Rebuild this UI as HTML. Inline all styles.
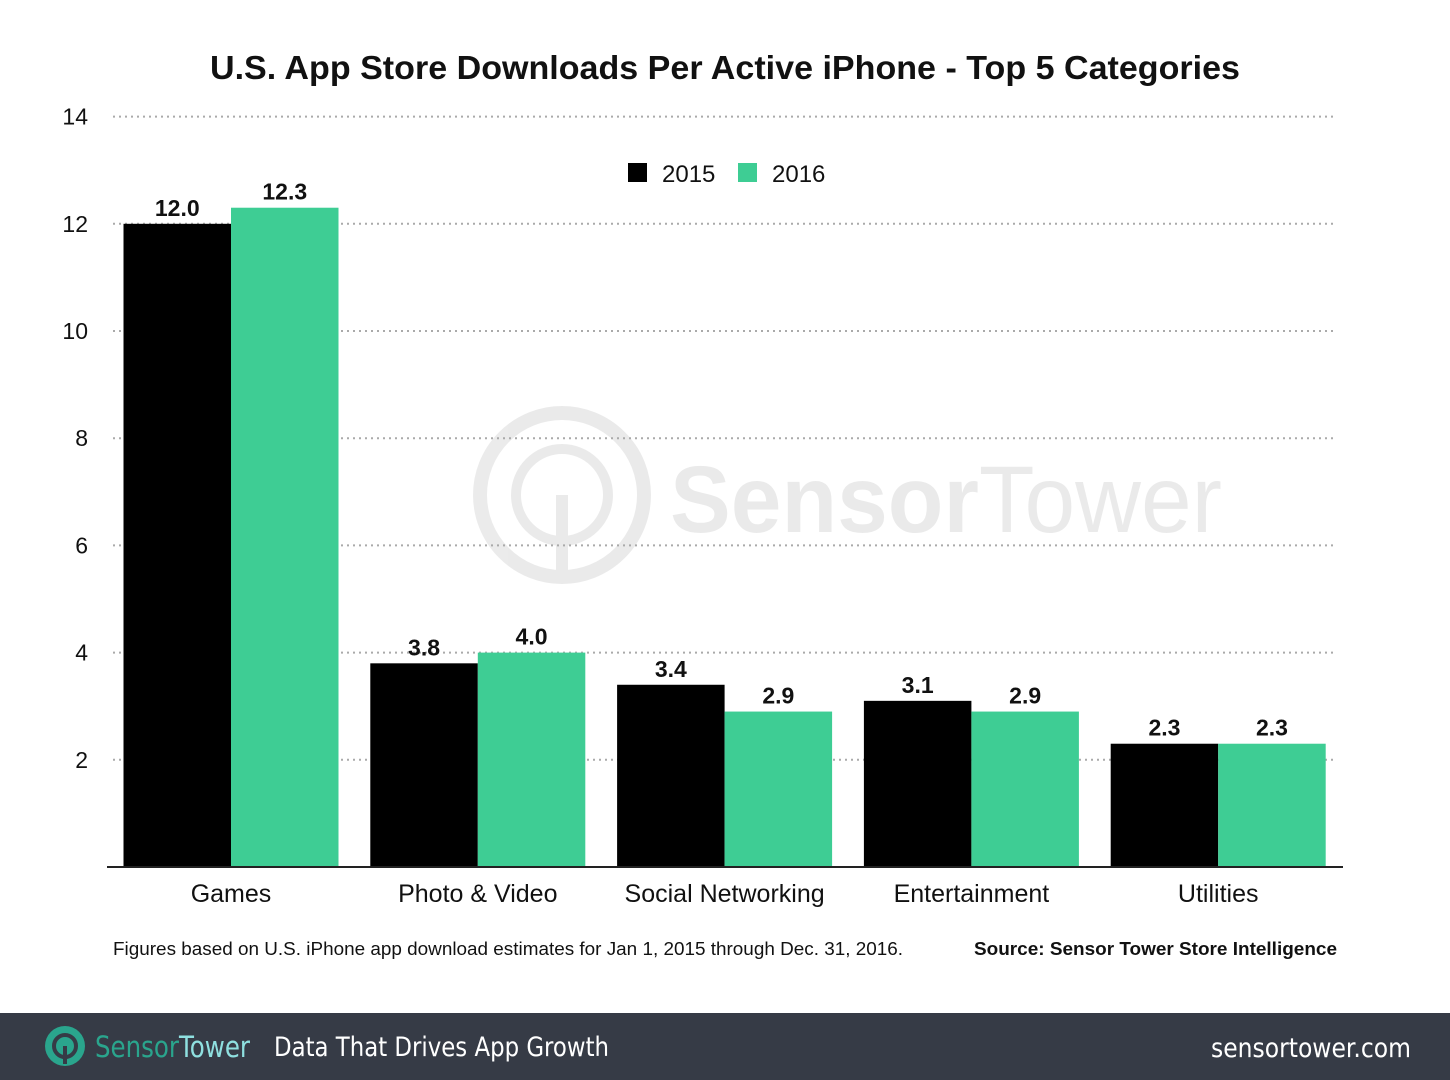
<!DOCTYPE html>
<html><head><meta charset="utf-8"><style>
body{margin:0;width:1450px;height:1080px;background:#fff;overflow:hidden;font-family:"Liberation Sans",Arial,sans-serif}
svg{display:block}
</style></head><body>
<svg id="chart" width="1450" height="1080">
<text x="210" y="79" font-size="33" font-weight="bold" fill="#111" textLength="1030" lengthAdjust="spacingAndGlyphs">U.S. App Store Downloads Per Active iPhone - Top 5 Categories</text>
<g id="watermark" opacity="0.08">
<circle cx="562" cy="495" r="82" fill="none" stroke="#000" stroke-width="14"/>
<circle cx="562" cy="495" r="46" fill="none" stroke="#000" stroke-width="10"/>
<rect x="556" y="495" width="12" height="85" fill="#000"/>
<text x="670" y="532" font-size="95" font-weight="bold" fill="#000" textLength="552" lengthAdjust="spacingAndGlyphs">Sensor<tspan font-weight="normal">Tower</tspan></text>
</g>
<g id="grid"></g><g id="bars"></g><g id="labels"></g>
<g>
<rect x="628" y="163" width="19" height="19" fill="#000"/>
<text x="662" y="182" font-size="24" fill="#111">2015</text>
<rect x="738" y="163" width="19" height="19" fill="#3ecd94"/>
<text x="772" y="182" font-size="24" fill="#111">2016</text>
</g>
<line x1="107" y1="867" x2="1343" y2="867" stroke="#222" stroke-width="2"/>
<text x="113" y="955" font-size="18" fill="#111" textLength="790" lengthAdjust="spacingAndGlyphs">Figures based on U.S. iPhone app download estimates for Jan 1, 2015 through Dec. 31, 2016.</text>
<text x="974" y="955" font-size="18" font-weight="bold" fill="#111" textLength="363" lengthAdjust="spacingAndGlyphs">Source: Sensor Tower Store Intelligence</text>
<rect x="0" y="1013" width="1450" height="67" fill="#363b46"/>
<g>
<circle cx="65" cy="1046" r="20" fill="#2aa58d"/>
<circle cx="65" cy="1046" r="11" fill="none" stroke="#363b46" stroke-width="4"/>
<rect x="63" y="1046" width="4" height="18" fill="#363b46"/>
<text x="95" y="1057" font-size="29" fill="#2aa58d" font-family="'DejaVu Sans',sans-serif" textLength="155" lengthAdjust="spacingAndGlyphs">Sensor<tspan fill="#8fe0e0">Tower</tspan></text>
</g>
<text x="274" y="1056" font-size="27" fill="#fff" font-family="'DejaVu Sans',sans-serif" textLength="335" lengthAdjust="spacingAndGlyphs">Data That Drives App Growth</text>
<text x="1211" y="1057" font-size="27" fill="#fff" font-family="'DejaVu Sans',sans-serif" textLength="200" lengthAdjust="spacingAndGlyphs">sensortower.com</text>
</svg>
<script>
const categories=["Games","Photo & Video","Social Networking","Entertainment","Utilities"];
const values2015=[12.0,3.8,3.4,3.1,2.3];
const values2016=[12.3,4.0,2.9,2.9,2.3];
const yTicks=[2,4,6,8,10,12,14];
const NS="http://www.w3.org/2000/svg";
const y0=867,yUnit=53.6,x0=231,step=246.8,barW=107.5;
function yS(v){return y0-v*yUnit;}
function xC(i){return x0+i*step;}
function mk(tag,attrs,parent){const e=document.createElementNS(NS,tag);for(const k in attrs)e.setAttribute(k,attrs[k]);document.getElementById(parent).appendChild(e);return e;}
yTicks.forEach(t=>{
  const l=mk("line",{x1:113,x2:1337,y1:yS(t),y2:yS(t),stroke:"#aaa","stroke-width":2,"stroke-dasharray":"2 4"},"grid");
  
  
  const tx=mk("text",{x:88,y:yS(t)+8,"font-size":23,"text-anchor":"end",fill:"#111"},"grid");
  tx.textContent=t;
  
  
});
categories.forEach((c,i)=>{
  [[values2015,"#000",-1,"2015"],[values2016,"#3ecd94",0,"2016"]].forEach(([arr,col,off,yr])=>{
    const v=arr[i],x=xC(i)+off*barW;
    const r=mk("rect",{x:x,y:yS(v),width:barW,height:y0-yS(v),fill:col},"bars");
    
    
    const t=mk("text",{x:x+barW/2,y:yS(v)-8,"font-size":23,"font-weight":"bold","text-anchor":"middle",fill:"#111"},"labels");
    t.textContent=v.toFixed(1);
    
    
  });
  const ct=mk("text",{x:xC(i),y:902,"font-size":25,"text-anchor":"middle",fill:"#111"},"labels");
  ct.textContent=c;
  
  
});
</script>
</body></html>
